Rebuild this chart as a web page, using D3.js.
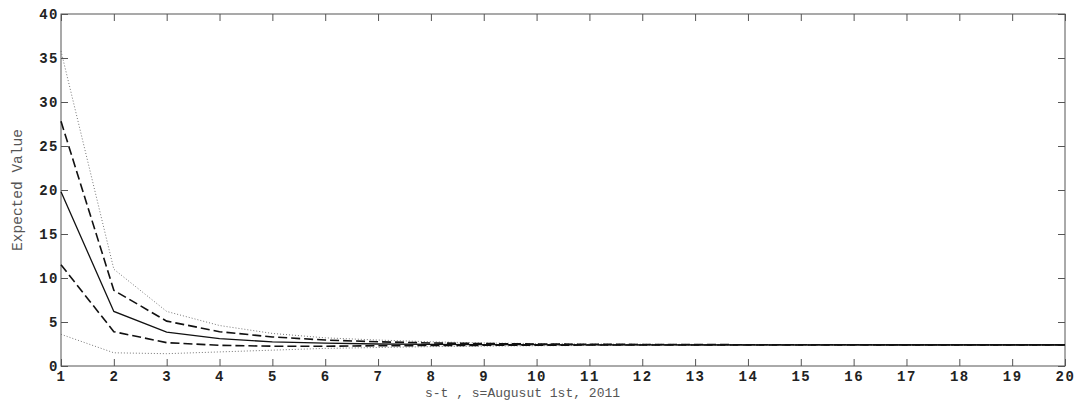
<!DOCTYPE html>
<html><head><meta charset="utf-8">
<script src="https://cdn.jsdelivr.net/npm/d3@7"></script>
<style>html,body{margin:0;padding:0;background:#fff;}</style>
</head><body>
<svg id="c" width="1074" height="405"></svg>
<script>
const steps = d3.range(1, 21);
const upperDotted = [35.8, 11.0, 6.2, 4.6, 3.7, 3.2, 2.95, 2.75, 2.62, 2.55, 2.5, 2.47, 2.45, 2.44, 2.43, 2.42, 2.41, 2.41, 2.4, 2.4];
const upperDashed = [27.8, 8.6, 5.1, 3.9, 3.3, 2.95, 2.75, 2.62, 2.55, 2.5, 2.47, 2.45, 2.43, 2.42, 2.41, 2.41, 2.4, 2.4, 2.4, 2.4];
const median      = [19.8, 6.2, 3.85, 3.1, 2.75, 2.6, 2.5, 2.45, 2.43, 2.42, 2.41, 2.41, 2.41, 2.4, 2.4, 2.4, 2.4, 2.4, 2.4, 2.4];
const lowerDashed = [11.5, 3.9, 2.65, 2.35, 2.25, 2.25, 2.3, 2.33, 2.35, 2.37, 2.38, 2.39, 2.39, 2.39, 2.39, 2.4, 2.4, 2.4, 2.4, 2.4];
const lowerDotted = [3.6, 1.5, 1.4, 1.6, 1.8, 2.0, 2.1, 2.2, 2.25, 2.3, 2.33, 2.35, 2.37, 2.38, 2.38, 2.39, 2.4, 2.4, 2.4, 2.4];
const yTicks = [0, 5, 10, 15, 20, 25, 30, 35, 40];
const xTicks = d3.range(1, 21);
const xLabel = "s-t , s=Augusut 1st, 2011";
const yLabel = "Expected Value";

const L = 61, R = 1065, T = 14, B = 366;
const svg = d3.select("#c");
const x = d3.scaleLinear().domain([1, 20]).range([L, R]);
const y = d3.scaleLinear().domain([0, 40]).range([B, T]);
const axisColor = "#555";

const tickFont = "'Liberation Mono', 'DejaVu Sans Mono', monospace";

// box
svg.append("rect").attr("x", L).attr("y", T).attr("width", R - L).attr("height", B - T)
  .attr("fill", "none").attr("stroke", axisColor).attr("stroke-width", 1);

function styleAxis(g) {
  g.select(".domain").remove();
  g.selectAll(".tick line").attr("stroke", axisColor);
  g.selectAll(".tick text").attr("font-family", tickFont).attr("font-size", 14)
    .attr("font-weight", "bold").attr("letter-spacing", 1.5).attr("fill", "#222");
}
svg.append("g").attr("transform", `translate(0,${B})`)
  .call(d3.axisBottom(x).tickValues(xTicks).tickSize(-7).tickPadding(5).tickFormat(d3.format("d")))
  .call(styleAxis);
svg.append("g").attr("transform", `translate(0,${T})`)
  .call(d3.axisTop(x).tickValues(xTicks).tickSize(-7).tickFormat(""))
  .call(styleAxis);
svg.append("g").attr("transform", `translate(${L},0)`)
  .call(d3.axisLeft(y).tickValues(yTicks).tickSize(-7).tickPadding(2).tickFormat(d3.format("d")))
  .call(styleAxis);
svg.append("g").attr("transform", `translate(${R},0)`)
  .call(d3.axisRight(y).tickValues(yTicks).tickSize(-7).tickFormat(""))
  .call(styleAxis);

const line = d3.line().x((d, i) => x(steps[i])).y(d => y(d));
const series = [
  {v: upperDotted, stroke: "#777", w: 1, dash: "1,2"},
  {v: lowerDotted, stroke: "#777", w: 1, dash: "1,2"},
  {v: upperDashed, stroke: "#111", w: 1.6, dash: "9,4"},
  {v: lowerDashed, stroke: "#111", w: 1.6, dash: "9,4"},
  {v: median, stroke: "#111", w: 1.3, dash: null}
];
series.forEach(s => {
  svg.append("path").datum(s.v).attr("d", line).attr("fill", "none")
    .attr("stroke", s.stroke).attr("stroke-width", s.w)
    .attr("stroke-dasharray", s.dash);
});

svg.append("text").attr("x", 425).attr("y", 397).attr("font-family", "'Liberation Mono', monospace")
  .attr("font-size", 13).attr("fill", "#555").text(xLabel);
svg.append("text").attr("transform", `translate(22,${(T + B) / 2}) rotate(-90)`)
  .attr("text-anchor", "middle").attr("font-family", "'Liberation Mono', monospace")
  .attr("font-size", 14.5).attr("fill", "#555").text(yLabel);
</script>
</body></html>
